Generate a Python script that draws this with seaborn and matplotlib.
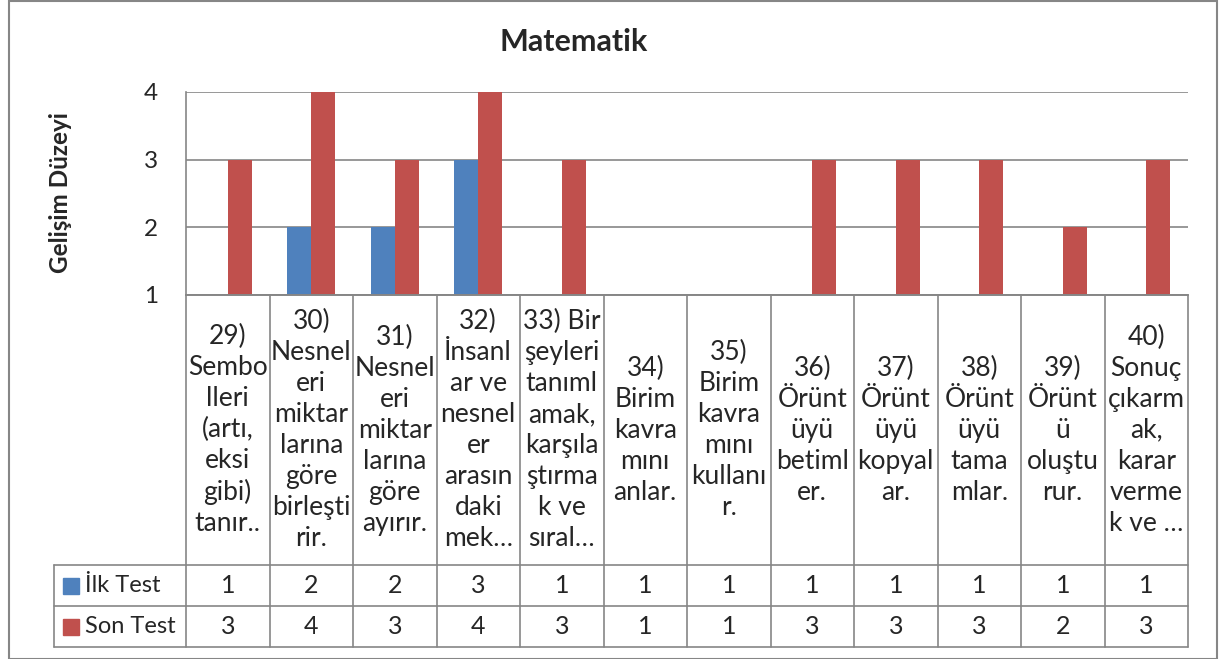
import matplotlib
matplotlib.use('Agg')
import matplotlib.pyplot as plt
import matplotlib.transforms as mtransforms
from matplotlib.patches import Rectangle
import pandas as pd
import seaborn as sns

# data
kategoriler = ['29', '30', '31', '32', '33', '34', '35', '36', '37', '38', '39', '40']
etiketler = [
    '29)\nSembo\nlleri\n(artı,\neksi\ngibi)\ntanır..',
    '30)\nNesnel\neri\nmiktar\nlarına\ngöre\nbirleşti\nrir.',
    '31)\nNesnel\neri\nmiktar\nlarına\ngöre\nayırır.',
    '32)\nİnsanl\nar ve\nnesnel\ner\narasın\ndaki\nmek…',
    '33) Bir\nşeyleri\ntanıml\namak,\nkarşıla\nştırma\nk ve\nsıral…',
    '34)\nBirim\nkavra\nmını\nanlar.',
    '35)\nBirim\nkavra\nmını\nkullanı\nr.',
    '36)\nÖrünt\nüyü\nbetiml\ner.',
    '37)\nÖrünt\nüyü\nkopyal\nar.',
    '38)\nÖrünt\nüyü\ntama\nmlar.',
    '39)\nÖrünt\nü\noluştu\nrur.',
    '40)\nSonuç\nçıkarm\nak,\nkarar\nverme\nk ve …',
]
ilk_test = [1, 2, 2, 3, 1, 1, 1, 1, 1, 1, 1, 1]
son_test = [3, 4, 3, 4, 3, 1, 1, 3, 3, 3, 2, 3]
seriler = ['İlk Test', 'Son Test']
renkler = ['#4F81BD', '#C0504D']

df = pd.DataFrame({
    'kategori': kategoriler * 2,
    'seri': [seriler[0]] * len(kategoriler) + [seriler[1]] * len(kategoriler),
    'deger': ilk_test + son_test,
})

sns.set_style('white')
plt.rcParams['font.family'] = ['Lato', 'DejaVu Sans']

W, H = 1219, 659
fig = plt.figure(figsize=(W / 100, H / 100), dpi=100)

# plot area in pixels
x0, x1, ytop, ybot = 186, 1188, 92, 295
ax = fig.add_axes([x0 / W, 1 - ybot / H, (x1 - x0) / W, (ybot - ytop) / H])

sns.barplot(data=df, x='kategori', y='deger', hue='seri', order=kategoriler,
            palette=renkler, width=0.575, saturation=1, linewidth=0,
            legend=False, ax=ax)

gri = '#868686'
ax.set_ylim(1, 4)
ax.set_xlim(-0.5, len(kategoriler) - 0.5)
ax.set_yticks([1, 2, 3, 4])
ax.set_xticks([])
ax.set_xlabel('')
ax.set_ylabel('')
ax.tick_params(axis='y', length=0, pad=20, labelsize=17.5)
ax.yaxis.grid(True, color=gri, linewidth=1.2)
ax.set_axisbelow(True)
for s in ['top', 'right']:
    ax.spines[s].set_visible(False)
for s in ['left', 'bottom']:
    ax.spines[s].set_color(gri)
    ax.spines[s].set_linewidth(1.2)

# data table under the plot (x in data units, y in axes fraction)
blend = mtransforms.blended_transform_factory(ax.transData, ax.transAxes)
def yf(py):
    return (ybot - py) / (ybot - ytop)

col_w = (x1 - x0) / len(kategoriler)
leg_left = -0.5 - (x0 - 54) / col_w
r_top, r_cat, r_ilk, r_son = 295, 565, 606, 647

tablo = dict(color=gri, linewidth=1.2, transform=blend, clip_on=False)
n = len(kategoriler)
for i in range(n + 1):
    ax.plot([i - 0.5, i - 0.5], [yf(r_top), yf(r_son)], **tablo)
ax.plot([leg_left, leg_left], [yf(r_cat), yf(r_son)], **tablo)
ax.plot([-0.5, n - 0.5], [yf(r_top), yf(r_top)], **tablo)
for r in [r_cat, r_ilk, r_son]:
    ax.plot([leg_left, n - 0.5], [yf(r), yf(r)], **tablo)

for i, lab in enumerate(etiketler):
    ax.text(i, yf((r_top + r_cat) / 2), lab, transform=blend, ha='center',
            va='center', multialignment='center', fontsize=19, linespacing=1.3,
            clip_on=False)
    ax.text(i, yf((r_cat + r_ilk) / 2), str(ilk_test[i]), transform=blend,
            ha='center', va='center', fontsize=18, clip_on=False)
    ax.text(i, yf((r_ilk + r_son) / 2), str(son_test[i]), transform=blend,
            ha='center', va='center', fontsize=18, clip_on=False)

for j, (ad, renk) in enumerate(zip(seriler, renkler)):
    ust, alt = [(r_cat, r_ilk), (r_ilk, r_son)][j]
    orta = (ust + alt) / 2
    fig.patches.append(Rectangle((63 / W, 1 - (orta + 8) / H), 16 / W, 16 / H,
                                 transform=fig.transFigure, color=renk))
    fig.text(85 / W, 1 - orta / H, ad, ha='left', va='center', fontsize=17)

fig.text(574 / W, 1 - 42 / H, 'Matematik', ha='center', va='center',
         fontsize=22, fontweight='bold')
fig.text(61 / W, 1 - 193 / H, 'Gelişim Düzeyi', ha='center', va='center',
         rotation=90, fontsize=17.5, fontweight='bold')

fig.patches.append(Rectangle((8.5 / W, 0.5 / H), (1216.5 - 8.5) / W, (658 - 0.5) / H,
                             transform=fig.transFigure, fill=False,
                             edgecolor=gri, linewidth=1.5))

fig.savefig('out.png', dpi=100)
